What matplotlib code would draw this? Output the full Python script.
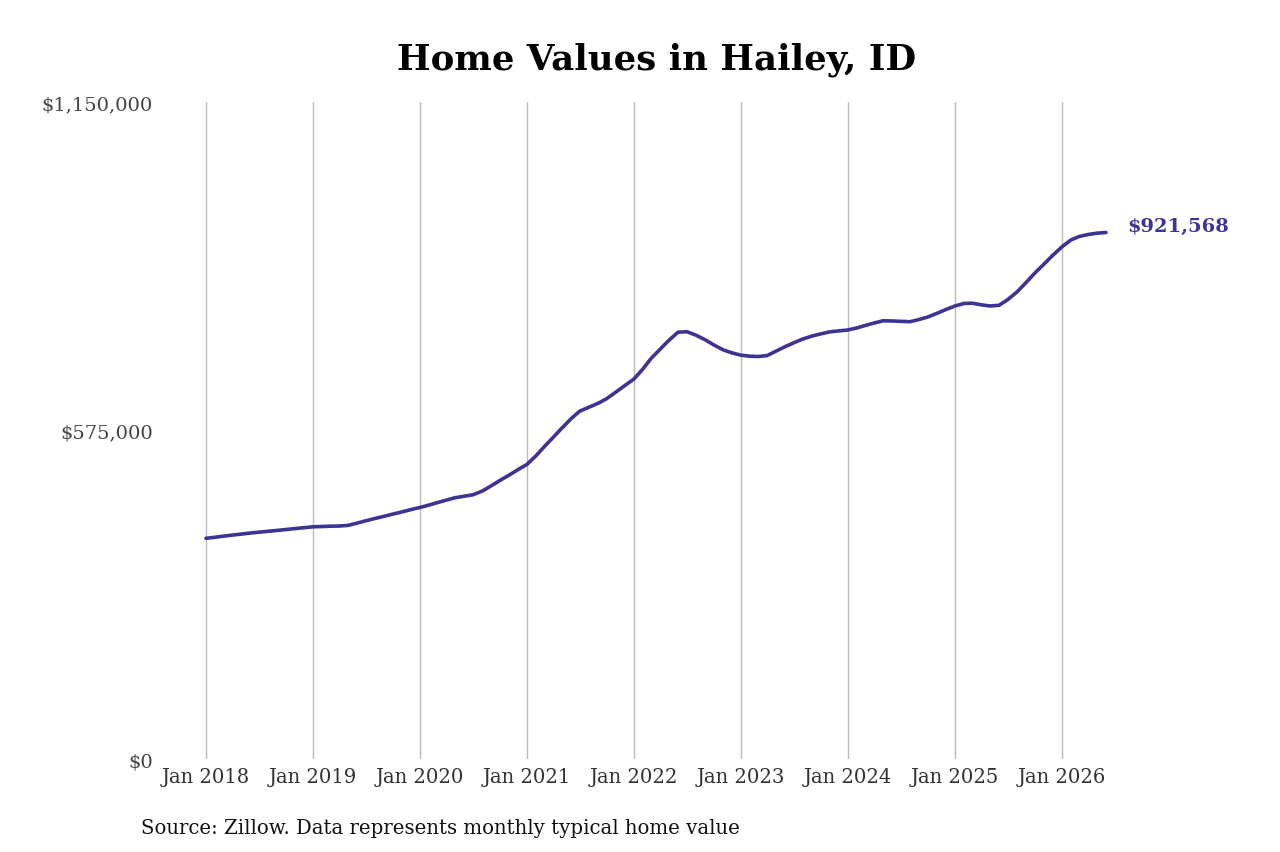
import numpy as np
import pandas as pd
import matplotlib
matplotlib.use("Agg")
import matplotlib.pyplot as plt
import matplotlib.dates as mdates
from matplotlib.ticker import FuncFormatter


## Data: monthly typical home value, Jan 2018 - Jun 2026
months = pd.date_range("2018-01-01", "2026-06-01", freq="MS")
values = [
    386300, 388150, 390000, 391900, 393650, 395500, 397100, 398550, 400100, 401700, 403300, 404850,  # 2018
    406450, 406950, 407500, 407800, 408900, 412900, 417000, 421000, 424800, 428700, 432500, 436400,  # 2019
    440200, 444400, 448800, 453200, 457400, 460000, 462600, 468900, 478200, 487650, 496900, 506400,  # 2020
    515650, 530900, 546650, 563300, 579550, 595800, 609100, 615800, 622600, 631000, 642400, 653600,  # 2021
    665000, 682800, 701200, 717500, 733100, 747100, 747900, 741800, 733900, 724700, 716300, 711000,  # 2022
    706800, 705050, 704500, 706100, 713800, 721700, 728500, 735200, 740200, 744100, 747600, 749300,  # 2023
    750900, 754400, 758800, 763200, 767000, 766700, 766000, 765400, 769300, 773700, 780100, 786600,  # 2024
    792900, 797300, 797800, 795000, 792900, 794100, 804300, 817400, 833900, 850500, 866100, 881500,  # 2025
    896200, 908400, 914500, 918000, 920300, 921568,                                                  # 2026
]

y_ticks = [0, 575000, 1150000]
x_ticks = pd.date_range("2018-01-01", "2026-01-01", freq="YS")

line_color = "#3d3393"

fig = plt.figure(figsize=(12.8, 8.53), dpi=100)
ax = fig.add_axes([0.125, 0.109, 0.742, 0.7703])

ax.plot(months, values, color=line_color, linewidth=2.6, solid_capstyle="round",
        solid_joinstyle="round")

# axis limits chosen so Jan 2018 / Jan 2026 land where the reference puts them
x0 = mdates.date2num(pd.Timestamp("2018-01-01"))
x1 = mdates.date2num(pd.Timestamp("2026-01-01"))
px_per_day = (1062 - 206) / (x1 - x0)
ax.set_xlim(x0 - (206 - 160) / px_per_day, x1 + (1110 - 1062) / px_per_day)
ax.set_ylim(0, 1150000)

ax.set_xticks(x_ticks)
ax.set_xticklabels([d.strftime("Jan %Y") for d in x_ticks],
                   fontfamily="DejaVu Serif", fontsize=14.1, color="#333333")
ax.set_yticks(y_ticks)
ax.yaxis.set_major_formatter(FuncFormatter(lambda v, p: f"${v:,.0f}"))
for lab in ax.get_yticklabels():
    lab.set_fontfamily("DejaVu Serif")
    lab.set_fontsize(14)
    lab.set_color("#444444")

ax.grid(axis="x", color="#bbbbbb", linewidth=1)
ax.tick_params(axis="both", length=0)
ax.tick_params(axis="x", pad=6)
ax.tick_params(axis="y", pad=5)
for s in ax.spines.values():
    s.set_visible(False)

# end label
ax.annotate(f"${values[-1]:,}", xy=(months[-1], values[-1]),
            xytext=(15, 5), textcoords="offset points", va="center", ha="left",
            fontfamily="DejaVu Serif", fontweight="bold", fontsize=14,
            color=line_color)

fig.text(0.513, 0.93, "Home Values in Hailey, ID", ha="center", va="center",
         fontfamily="DejaVu Serif", fontweight="bold", fontsize=25.6)
fig.text(0.110, 0.029, "Source: Zillow. Data represents monthly typical home value",
         ha="left", va="center", fontfamily="DejaVu Serif",
         fontsize=14.2, color="#111111")

fig.savefig("out.png", dpi=100, facecolor="white")
